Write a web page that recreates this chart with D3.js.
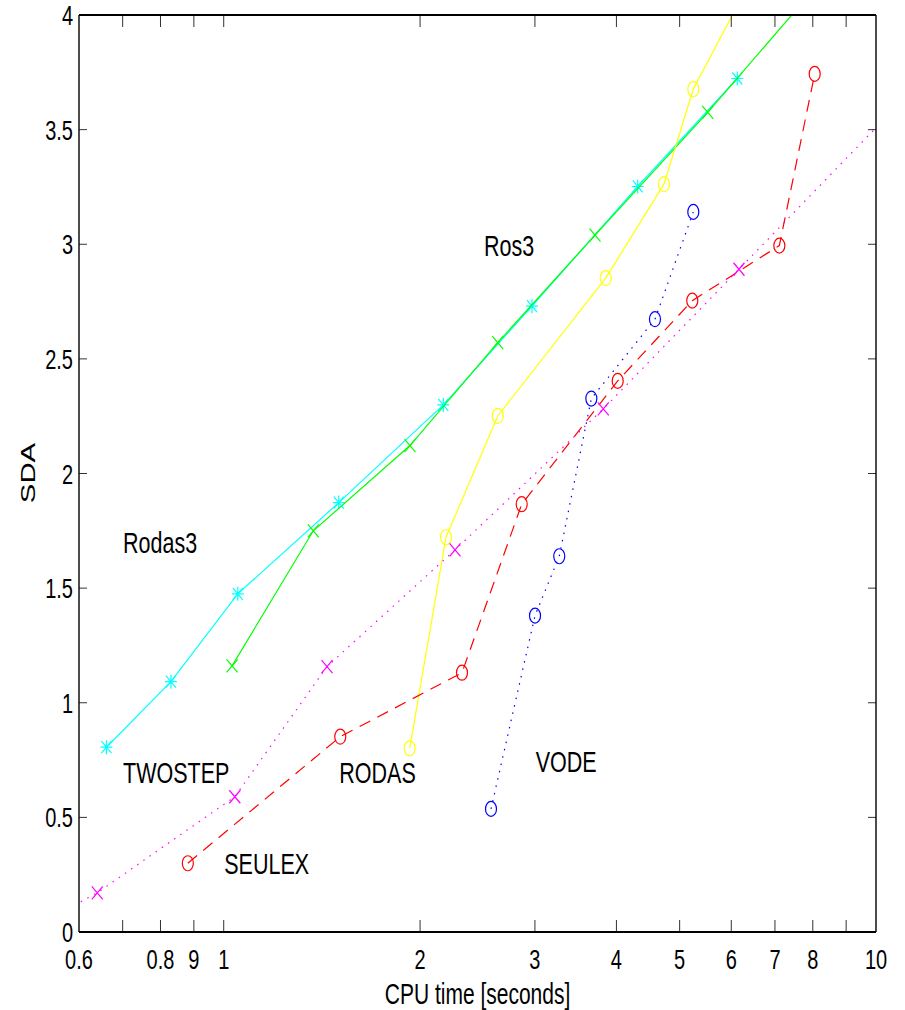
<!DOCTYPE html>
<html>
<head>
<meta charset="utf-8">
<script src="https://cdn.jsdelivr.net/npm/d3@7"></script>
<style>
  body { margin: 0; background: #fff; }
  text { font-family: "Liberation Sans", Arial, sans-serif; fill: #000; }
</style>
</head>
<body>
<div id="chart"></div>
<script>
// values (CPU time in seconds, SDA)
const rodas3Time = [0.661, 0.830, 1.051, 1.501, 2.171, 2.969, 4.312, 6.128];
const rodas3Sda  = [0.806, 1.092, 1.475, 1.873, 2.299, 2.730, 3.252, 3.723];

const ros3Time = [1.030, 1.372, 1.930, 2.631, 3.709, 5.521, 7.80];
const ros3Sda  = [1.161, 1.750, 2.122, 2.571, 3.040, 3.575, 4.07];

const rodasTime = [1.928, 2.192, 2.631, 3.851, 4.731, 5.247, 6.41];
const rodasSda  = [0.801, 1.722, 2.251, 2.852, 3.262, 3.677, 4.145];

const seulexTime = [0.881, 1.509, 2.319, 2.863, 4.018, 5.228, 7.109, 8.054];
const seulexSda  = [0.300, 0.852, 1.131, 1.866, 2.404, 2.754, 2.994, 3.743];

const twostepTime = [0.55, 0.640, 1.040, 1.440, 2.263, 3.819, 6.165, 11.0];
const twostepSda  = [0.07, 0.171, 0.590, 1.158, 1.667, 2.282, 2.891, 3.63];

const vodeTime = [2.569, 3.001, 3.269, 3.661, 4.583, 5.247];
const vodeSda  = [0.537, 1.380, 1.639, 2.327, 2.673, 3.141];

const xTickValues = [0.7, 0.8, 0.9, 1, 2, 3, 4, 5, 6, 7, 8, 9];
const xLabelValues = [0.6, 0.8, 0.9, 1, 2, 3, 4, 5, 6, 7, 8, 10];
const xLabelTexts = ["0.6", "0.8", "9", "1", "2", "3", "4", "5", "6", "7", "8", "10"];
const yTickValues = [0, 0.5, 1, 1.5, 2, 2.5, 3, 3.5, 4];
const yLabelTexts = ["0", "0.5", "1", "1.5", "2", "2.5", "3", "3.5", "4"];

const series = [
  { name: "Rodas3", t: rodas3Time, v: rodas3Sda, color: "#00ffff", dash: null, marker: "star" },
  { name: "Ros3", t: ros3Time, v: ros3Sda, color: "#00ff00", dash: null, marker: "x" },
  { name: "RODAS", t: rodasTime, v: rodasSda, color: "#ffff00", dash: null, marker: "o" },
  { name: "SEULEX", t: seulexTime, v: seulexSda, color: "#ff0000", dash: "12,8", marker: "o" },
  { name: "TWOSTEP", t: twostepTime, v: twostepSda, color: "#ff00ff", dash: "1.5,6", marker: "x" },
  { name: "VODE", t: vodeTime, v: vodeSda, color: "#0000ff", dash: "1.5,6", marker: "o" }
];

// free text labels placed in the plot
const notes = [
  { text: "Ros3", t: 2.506, v: 2.949 },
  { text: "Rodas3", t: 0.701, v: 1.652 },
  { text: "TWOSTEP", t: 0.701, v: 0.651 },
  { text: "RODAS", t: 1.504, v: 0.651 },
  { text: "VODE", t: 3.008, v: 0.700 },
  { text: "SEULEX", t: 1.002, v: 0.252 }
];

const W = 905, H = 1010;
const mLeft = 79, mRight = 876, mTop = 15, mBottom = 932;

const svg = d3.select("#chart").append("svg")
  .attr("width", W)
  .attr("height", H);

const x = d3.scaleLog().domain([0.6, 10]).range([mLeft, mRight]);
const y = d3.scaleLinear().domain([0, 4]).range([mBottom, mTop]);

// the figure is stretched vertically, so text is too
function stretchedText(px, py, txt, size, anchor) {
  return svg.append("text")
    .attr("transform", `translate(${px},${py}) scale(1,1.4)`)
    .attr("text-anchor", anchor)
    .style("font-size", size + "px")
    .text(txt);
}

svg.append("defs").append("clipPath").attr("id", "plot")
  .append("rect")
  .attr("x", mLeft).attr("y", mTop)
  .attr("width", mRight - mLeft).attr("height", mBottom - mTop);

const plot = svg.append("g").attr("clip-path", "url(#plot)");

const line = d3.line().x(d => x(d[0])).y(d => y(d[1]));

series.forEach(s => {
  const pts = s.t.map((t, i) => [t, s.v[i]]);
  plot.append("path")
    .attr("d", line(pts))
    .attr("fill", "none")
    .attr("stroke", s.color)
    .attr("stroke-width", 1.2)
    .attr("stroke-dasharray", s.dash);

  const g = plot.append("g")
    .attr("fill", "none")
    .attr("stroke", s.color)
    .attr("stroke-width", 1.2);

  pts.forEach(p => {
    const cx = x(p[0]), cy = y(p[1]);
    if (s.marker === "o") {
      g.append("ellipse").attr("cx", cx).attr("cy", cy).attr("rx", 5.5).attr("ry", 7.5);
    } else if (s.marker === "x") {
      g.append("path").attr("d",
        `M${cx - 5.5},${cy - 6.5}L${cx + 5.5},${cy + 6.5}M${cx - 5.5},${cy + 6.5}L${cx + 5.5},${cy - 6.5}`);
    } else {
      g.append("path").attr("d",
        `M${cx - 5},${cy - 6}L${cx + 5},${cy + 6}M${cx - 5},${cy + 6}L${cx + 5},${cy - 6}` +
        `M${cx},${cy - 7}L${cx},${cy + 7}M${cx - 6},${cy}L${cx + 6},${cy}`);
    }
  });
});

// ticks, pointing inwards on all four sides
const ticks = svg.append("g").attr("stroke", "#333").attr("stroke-width", 1);
xTickValues.forEach(v => {
  ticks.append("line").attr("x1", x(v)).attr("x2", x(v)).attr("y1", mBottom).attr("y2", mBottom - 12);
  ticks.append("line").attr("x1", x(v)).attr("x2", x(v)).attr("y1", mTop).attr("y2", mTop + 12);
});
yTickValues.forEach(v => {
  ticks.append("line").attr("x1", mLeft).attr("x2", mLeft + 8).attr("y1", y(v)).attr("y2", y(v));
  ticks.append("line").attr("x1", mRight).attr("x2", mRight - 8).attr("y1", y(v)).attr("y2", y(v));
});

// box
const box = svg.append("g").attr("stroke", "#000");
box.append("line").attr("x1", mLeft).attr("x2", mRight).attr("y1", mBottom).attr("y2", mBottom).attr("stroke-width", 2);
box.append("line").attr("x1", mLeft).attr("x2", mRight).attr("y1", mTop).attr("y2", mTop).attr("stroke-width", 2);
box.append("line").attr("x1", mLeft).attr("x2", mLeft).attr("y1", mTop).attr("y2", mBottom).attr("stroke-width", 1.4);
box.append("line").attr("x1", mRight).attr("x2", mRight).attr("y1", mTop).attr("y2", mBottom).attr("stroke-width", 1.4);

// tick labels
xLabelValues.forEach((v, i) => stretchedText(x(v), 969, xLabelTexts[i], 20, "middle"));
yTickValues.forEach((v, i) => stretchedText(73, y(v) + 10, yLabelTexts[i], 20, "end"));

// axis titles
stretchedText((mLeft + mRight) / 2, 1004, "CPU time [seconds]", 21, "middle");
svg.append("text")
  .attr("transform", `translate(35,473) rotate(-90) scale(1.4,1)`)
  .attr("text-anchor", "middle")
  .style("font-size", "21px")
  .text("SDA");

// method names
notes.forEach(n => stretchedText(x(n.t), y(n.v), n.text, 21.5, "start"));
</script>
</body>
</html>
